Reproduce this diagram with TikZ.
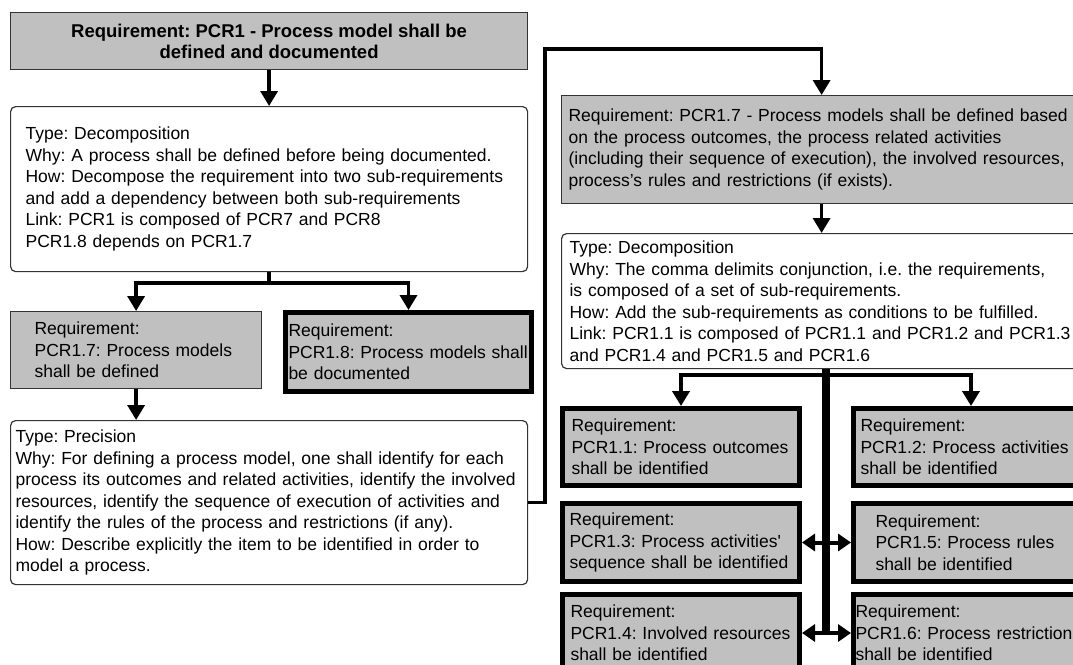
\documentclass[tikz,border=0pt]{standalone}
\usepackage{fontspec}
\setmainfont{Liberation Sans}
\usetikzlibrary{arrows.meta}
\definecolor{reqgray}{RGB}{192,192,192}
\frenchspacing

\begin{document}
\begin{tikzpicture}[x=1pt,y=1pt,
    box/.style={draw=black!80, line width=1.2pt, anchor=north west, align=left, inner ysep=0pt, font=\fontsize{17.5}{21.5}\selectfont},
    reqbox/.style={box, fill=reqgray},
    reqthick/.style={reqbox, draw=black, line width=5pt},
    notebox/.style={box, fill=white, rounded corners=5pt},
    arr/.style={-{Triangle[width=17pt,length=15pt]}, line width=3.5pt},
    darr/.style={{Triangle[width=17pt,length=13pt]}-{Triangle[width=17pt,length=13pt]}, line width=4pt},
    trunk/.style={line width=8pt}]
    \useasboundingbox (0,0) rectangle (1073,-664);
    \clip (0,0) rectangle (1073,-664);

    \node[reqbox, minimum width=517pt, minimum height=57pt, align=center, font=\fontsize{18.5}{21}\selectfont\bfseries] (top) at (10,-12) {Requirement: PCR1 - Process model shall be\\defined and documented};
    \node[notebox, minimum width=517pt, minimum height=165pt, inner xsep=15pt, text width=487pt] (dec1) at (10,-106) {Type: Decomposition\\Why: A process shall be defined before being documented.\\How: Decompose the requirement into two sub-requirements\\and add a dependency between both sub-requirements\\Link: PCR1 is composed of PCR7 and PCR8\\PCR1.8 depends on PCR1.7};
    \node[reqbox, minimum width=251pt, minimum height=77pt, inner xsep=24pt, text width=203pt] (r17) at (10,-311) {Requirement:\\PCR1.7: Process models\\shall be defined};
    \node[reqthick, minimum width=246pt, minimum height=79pt, inner xsep=3pt, text width=240pt] (r18) at (283,-310) {Requirement:\\PCR1.8: Process models shall\\be documented};
    \node[notebox, minimum width=517pt, minimum height=164pt, inner xsep=5pt, text width=507pt] (prec) at (10,-420) {Type: Precision\\Why: For defining a process model, one shall identify for each\\process its outcomes and related activities, identify the involved\\resources, identify the sequence of execution of activities and\\identify the rules of the process and restrictions (if any).\\How: Describe explicitly the item to be identified in order to\\model a process.};

    \node[reqbox, minimum width=520pt, minimum height=108pt, inner xsep=7pt, text width=506pt] (r7) at (561,-95) {Requirement: PCR1.7 - Process models shall be defined based\\on the process outcomes, the process related activities\\(including their sequence of execution), the involved resources,\\process’s rules and restrictions (if exists).};
    \node[notebox, minimum width=540pt, minimum height=135pt, inner xsep=8pt, text width=524pt] (dec7) at (561,-233) {Type: Decomposition\\Why: The comma delimits conjunction, i.e.\ the requirements,\\is composed of a set of sub-requirements.\\How: Add the sub-requirements as conditions to be fulfilled.\\Link: PCR1.1 is composed of PCR1.1 and PCR1.2 and PCR1.3\\and PCR1.4 and PCR1.5 and PCR1.6};
    \node[reqthick, minimum width=237pt, minimum height=77pt, inner xsep=9pt, text width=219pt] (r11) at (560,-406) {Requirement:\\PCR1.1: Process outcomes\\shall be identified};
    \node[reqthick, minimum width=235pt, minimum height=77pt, inner xsep=7pt, text width=221pt] (r12) at (851,-406) {Requirement:\\PCR1.2: Process activities\\shall be identified};
    \node[reqthick, minimum width=237pt, minimum height=78pt, inner xsep=7pt, text width=223pt] (r13) at (560,-501) {Requirement:\\PCR1.3: Process activities\textquotesingle\\sequence shall be identified};
    \node[reqthick, minimum width=235pt, minimum height=78pt, inner xsep=22pt, text width=191pt] (r15) at (851,-501) {Requirement:\\PCR1.5: Process rules\\shall be identified};
    \node[reqthick, minimum width=237pt, minimum height=77pt, inner xsep=8pt, text width=221pt] (r14) at (560,-592) {Requirement:\\PCR1.4: Involved resources\\shall be identified};
    \node[reqthick, minimum width=235pt, minimum height=77pt, inner xsep=2pt, text width=231pt] (r16) at (851,-592) {Requirement:\\PCR1.6: Process restriction\\shall be identified};

    \coordinate (hop) at (545,-49);
    \coordinate (rfork) at (826,-375);

    \draw[arr] (top.south) -- (dec1.north);
    \draw[arr] (dec1.south) -- ++(0,-11) -| (r17.north);
    \draw[arr] (dec1.south) -- ++(0,-11) -| (r18.north);
    \draw[arr] (r17.south) -- (r17.south |- prec.north);
    \draw[arr] (prec.east) -| (hop) -| (r7.north);
    \draw[arr] (r7.south) -- (r7.south |- dec7.north);
    \draw[trunk] (dec7.south -| rfork) -- (r14.east -| rfork);
    \draw[arr, line width=4pt] (rfork) -| (r11.north);
    \draw[arr, line width=4pt] (rfork) -| (r12.north);
    \draw[darr] (r13) -- (r15);
    \draw[darr] (r14) -- (r16);
\end{tikzpicture}
\end{document}
